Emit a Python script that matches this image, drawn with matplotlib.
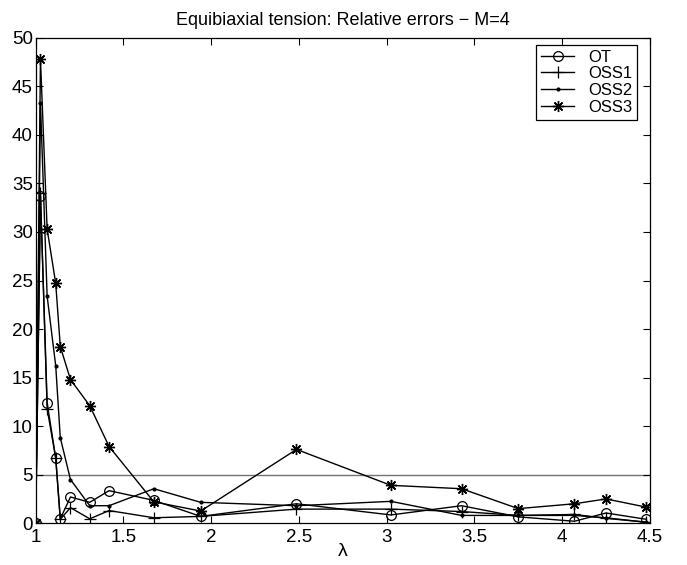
"""
Relative errors for equibiaxial tension, M=4
"""
import numpy as np
import matplotlib
matplotlib.use('Agg')
import matplotlib.pyplot as plt

# =======================================================================================
lam = [1.0, 1.027, 1.065, 1.114, 1.14, 1.198, 1.308, 1.418, 1.673, 1.94,
       2.486, 3.024, 3.427, 3.75, 4.07, 4.25, 4.48]

err_OT   = [0.0, 33.7, 12.4, 6.7, 0.45, 2.7, 2.15, 3.35, 2.35, 0.7,
            2.0, 0.85, 1.8, 0.65, 0.2, 1.05, 0.4]
err_OSS1 = [0.0, 34.0, 11.8, 6.7, 0.4, 1.6, 0.45, 1.3, 0.56, 0.7,
            1.45, 1.45, 1.2, 0.8, 0.9, 0.5, 0.1]
err_OSS2 = [0.0, 43.3, 23.4, 16.2, 8.8, 4.5, 1.8, 1.8, 3.55, 2.15,
            1.8, 2.25, 0.8, 0.8, 0.8, 0.55, 0.1]
err_OSS3 = [0.0, 47.8, 30.3, 24.7, 18.2, 14.8, 12.1, 7.9, 2.2, 1.25,
            7.6, 3.9, 3.55, 1.5, 2.0, 2.5, 1.65]

labels = ['OT', 'OSS1', 'OSS2', 'OSS3']
ref_level = 5

# Fontsizes
TF = 13    # title
LGF = 12   # legend
LBF = 14   # axis label
TS = 13.5  # ticks
lw1 = 1.0
# =======================================================================================

plt.rcParams['font.family'] = ['Liberation Sans', 'DejaVu Sans']

fig = plt.figure(figsize=(6.87, 5.65), dpi=100)
ax = fig.add_axes([0.052, 0.074, 0.894, 0.859])

ax.axhline(ref_level, color='0.45', lw=1.0, zorder=1)

ax.plot(lam, err_OT, color='black', lw=lw1, marker='o', ms=7, mfc='none', mec='black', mew=0.9, label=labels[0])
ax.plot(lam, err_OSS1, color='black', lw=lw1, marker='+', ms=8, mew=0.9, label=labels[1])
ax.plot(lam, err_OSS2, color='black', lw=lw1, marker='.', ms=4, label=labels[2])
ax.plot(lam, err_OSS3, color='black', lw=lw1, marker=(8, 2, 0), ms=8, mec='black', mew=1.0, label=labels[3])

ax.set_xlim(1, 4.5)
ax.set_ylim(0, 50)
ax.set_xticks([1, 1.5, 2, 2.5, 3, 3.5, 4, 4.5])
ax.set_xticklabels(['1', '1.5', '2', '2.5', '3', '3.5', '4', '4.5'])
ax.set_yticks(np.arange(0, 51, 5))
ax.tick_params(direction='in', top=True, right=True, length=5, width=0.8, labelsize=TS)
ax.tick_params(axis='x', pad=4)
ax.tick_params(axis='y', pad=2)
for sp in ax.spines.values():
    sp.set_linewidth(0.9)

ax.set_title('Equibiaxial tension: Relative errors \u2212 M=4', fontsize=TF, pad=9)
ax.set_xlabel('\u03bb', fontsize=LBF, labelpad=-2)

lg = ax.legend(loc='upper right', fontsize=LGF, fancybox=False, edgecolor='black',
               framealpha=1, handlelength=2.0, borderaxespad=0.0, labelspacing=0.1,
               borderpad=0.3, bbox_to_anchor=(0.979, 0.986))
lg.get_frame().set_linewidth(0.9)

fig.savefig('out.png', dpi=100)
